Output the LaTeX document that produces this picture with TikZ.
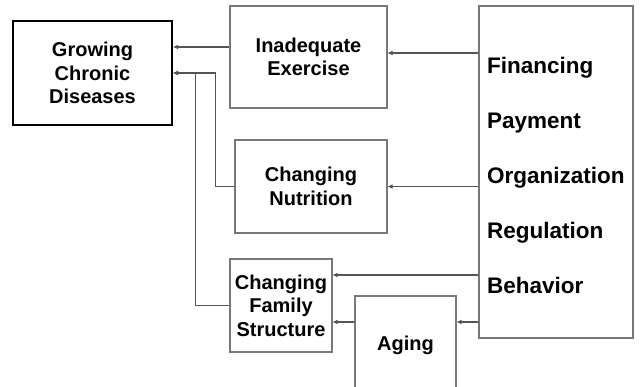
\documentclass[tikz,border=0pt]{standalone}
\usepackage{fontspec}
\setmainfont{Liberation Sans}
\usepackage{tikz}
\usetikzlibrary{arrows.meta,positioning,calc}
\usepackage{xcolor}
\definecolor{cLine}{RGB}{85,85,85}
\definecolor{cEdge}{RGB}{120,120,120}
\tikzset{
  basebox/.style={rectangle,draw=cEdge,line width=1.3pt,align=center,
                  font=\fontsize{20}{23.5}\selectfont\bfseries,inner sep=0pt},
  mainnode/.style={basebox,draw=black,line width=2.2pt},
  factnode/.style={basebox},
  polnode/.style={basebox},
  poltext/.style={align=left,inner sep=0pt,
                  font=\fontsize{22.5}{55}\selectfont\bfseries},
  link/.style={-{Triangle[length=5pt,width=4pt]},line width=1.2pt,color=cLine}
}
\begin{document}
\begin{tikzpicture}[x=1pt,y=-1pt]
  \clip (0,0) rectangle (640,387);

  % Outcome on the left
  \node[mainnode,minimum width=159pt,minimum height=104pt] (grow) at (92.5,73)
      {Growing\\Chronic\\Diseases};

  % Intermediate factors
  \node[factnode,minimum width=157pt,minimum height=102pt] (exer) at (308.5,57)
      {Inadequate\\Exercise};
  \node[factnode,minimum width=152pt,minimum height=93pt] (nutr) at (311,186.5)
      {Changing\\Nutrition};
  \node[factnode,minimum width=102pt,minimum height=93pt] (fam) at (281,305.5)
      {Changing\\Family\\Structure};
  \node[factnode,minimum width=101pt,minimum height=98pt] (aging) at (405.5,345)
      {Aging};

  % Policy levers on the right (base anchor sits on the last line)
  \node[polnode,minimum width=154pt,minimum height=332pt] (pol) at (556,172) {};
  \node[poltext,anchor=base west] (polText) at (487,294)
      {Financing\\Payment\\Organization\\Regulation\\Behavior};

  % connector levels
  \coordinate (lvlEx) at (0,53);
  \coordinate (lvlGr) at (0,47);
  \coordinate (lvlFam) at (0,275);
  \coordinate (lvlAg) at (0,322);

  \draw[link] (pol.west |- lvlEx) -- (exer.east |- lvlEx);
  \draw[link] (pol.west |- nutr.east) -- (nutr.east);
  \draw[link] (pol.west |- lvlFam) -- (fam.east |- lvlFam);
  \draw[link] (pol.west |- lvlAg) -- (aging.east |- lvlAg);
  \draw[link] (aging.west |- lvlAg) -- (fam.east |- lvlAg);

  \draw[link] (exer.west |- lvlGr) -- (grow.east |- lvlGr);
  \draw[link] (nutr.west) -- ++(-19,0) |- (grow.east);
  \draw[link] (fam.west) -- ++(-34,0) |- (grow.east);

\end{tikzpicture}
\end{document}
